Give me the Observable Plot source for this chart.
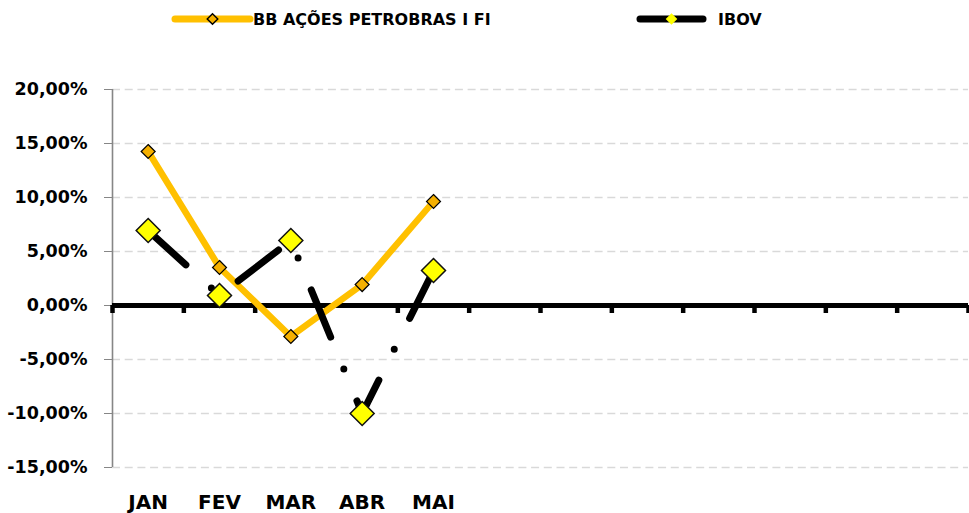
<!DOCTYPE html>
<html><head><meta charset="utf-8">
<script src="https://cdn.jsdelivr.net/npm/d3@7"></script>
<script src="https://cdn.jsdelivr.net/npm/@observablehq/plot@0.6"></script>
<style>
body{margin:0;background:#fff;font-family:"DejaVu Sans",sans-serif;font-weight:bold}
#legend{height:40px;width:969px;display:block}
#chart{width:969px}
</style></head><body>
<div id="legend"></div>
<div id="chart"></div>
<script>
// ---- data ----
const months = ["JAN", "FEV", "MAR", "ABR", "MAI"];
const monthSlots = 12;
const bbValues = [14.26, 3.52, -2.87, 1.94, 9.63];
const ibovValues = [6.94, 0.93, 6.02, -10.0, 3.24];
const seriesNames = ["BB AÇÕES PETROBRAS I FI", "IBOV"];
const yTicks = [-15, -10, -5, 0, 5, 10, 15, 20];

const fmt = v => v.toFixed(2).replace(".", ",") + "%";
const bb = months.map((m, i) => ({x: i + 0.5, v: bbValues[i], m}));
const ibov = months.map((m, i) => ({x: i + 0.5, v: ibovValues[i], m}));
const boundaries = d3.range(0, monthSlots + 1);

// ---- legend ----
const legendItems = [
  {name: seriesNames[0], line: "#FFC000", fill: "#F5B000", stroke: "#000", x0: 175, x1: 250, tx: 253, r: 5.3},
  {name: seriesNames[1], line: "#000", fill: "#FFFF00", stroke: "#FFFF00", x0: 640, x1: 703, tx: 718, r: 4.8}
];
const lsvg = d3.select("#legend").append("svg").attr("width", 969).attr("height", 40);
for (const it of legendItems) {
  lsvg.append("line").attr("x1", it.x0).attr("x2", it.x1).attr("y1", 19).attr("y2", 19)
    .attr("stroke", it.line).attr("stroke-width", 7).attr("stroke-linecap", "round");
  const s = Math.pow(it.r / 0.62625, 2);
  lsvg.append("path").attr("d", d3.symbol(d3.symbolDiamond2, s)())
    .attr("transform", `translate(${(it.x0 + it.x1) / 2},19)`)
    .attr("fill", it.fill).attr("stroke", it.stroke).attr("stroke-width", 1.4);
  lsvg.append("text").attr("x", it.tx).attr("y", 25).text(it.name)
    .attr("font-family", "DejaVu Sans").attr("font-weight", "bold").attr("font-size", 16).attr("fill", "#000");
}

// ---- chart ----
const chart = Plot.plot({
  width: 969,
  height: 473,
  marginTop: 49,
  marginBottom: 46,
  marginLeft: 112,
  marginRight: 1,
  style: {fontFamily: "DejaVu Sans", fontWeight: "bold", color: "#000", background: "#fff"},
  x: {type: "linear", domain: [0, monthSlots]},
  y: {domain: [-15, 20]},
  marks: [
    Plot.ruleY(yTicks, {stroke: "#d9d9d9", strokeWidth: 1.6, strokeDasharray: "8,4.7"}),
    Plot.ruleX([0], {y1: -15, y2: 20, stroke: "#868686", strokeWidth: 1.6}),
    Plot.axisY({ticks: yTicks, tickSize: 8, tickPadding: 17, tickFormat: fmt, fontSize: 17.5,
      stroke: "#868686", fill: "#000", label: null}),
    Plot.axisX({ticks: months.map((m, i) => i + 0.5), tickFormat: d => months[Math.floor(d)],
      tickSize: 0, tickPadding: 27, fontSize: 20, fill: "#000", label: null}),
    Plot.ruleY([0], {stroke: "#000", strokeWidth: 5}),
    Plot.ruleX(boundaries, {x: d => d, y1: 0, y2: 0, insetBottom: -8, stroke: "#000", strokeWidth: 4.5}),
    Plot.line(bb, {x: "x", y: "v", stroke: "#FFC000", strokeWidth: 6.5}),
    Plot.dot(bb, {x: "x", y: "v", symbol: "diamond2", r: 6.3, fill: "#F5B000", stroke: "#000", strokeWidth: 1.2}),
    Plot.line(ibov, {x: "x", y: "v", stroke: "#000", strokeWidth: 7, strokeDasharray: "51,34.5,0,34.5"}),
    Plot.dot(ibov, {x: "x", y: "v", symbol: "diamond2", r: 10.8, fill: "#FFFF00", stroke: "#111", strokeWidth: 1.5})
  ]
});
document.getElementById("chart").appendChild(chart);
</script>
</body></html>
